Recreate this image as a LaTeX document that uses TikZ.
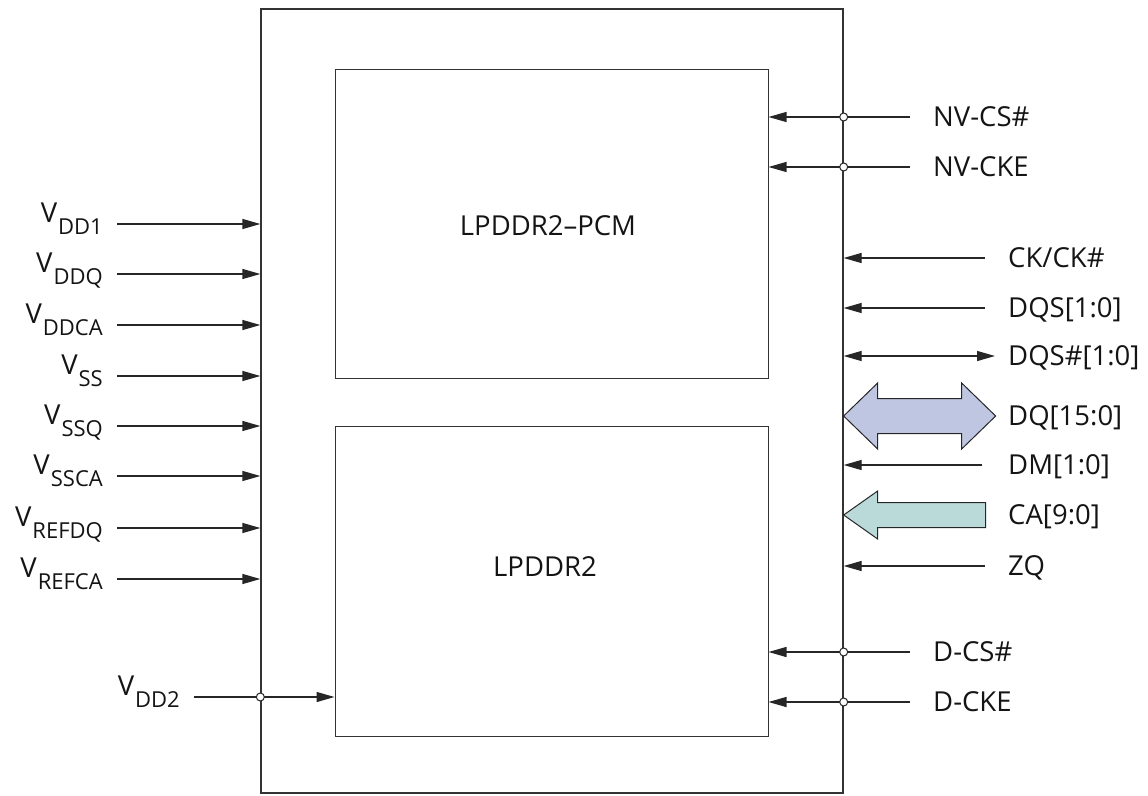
\documentclass[tikz,border=0pt]{standalone}
\usepackage{fontspec}
\setmainfont{Open Sans}
\usetikzlibrary{positioning,arrows.meta,calc}
\definecolor{dqblue}{RGB}{190,198,225}
\definecolor{cateal}{RGB}{186,218,218}
\newcommand{\volt}[1]{V\kern1pt\raisebox{-12pt}{\fontsize{22}{22}\selectfont #1}}
\tikzset{
  box/.style={draw=black!80,line width=1pt,inner sep=0pt},
  sig/.style={draw=black!85,line width=1.3pt,-{Triangle[length=18pt,width=10pt]}},
  sigboth/.style={draw=black!85,line width=1.3pt,{Triangle[length=18pt,width=10pt]}-{Triangle[length=18pt,width=10pt]}},
  vlbl/.style={anchor=east,inner xsep=14pt,inner ysep=0pt,text height=10pt,text depth=14pt},
  rlbl/.style={anchor=west,inner xsep=23pt,inner ysep=0pt,text height=19pt,text depth=0pt},
  tap/.style={draw=black!85,line width=1pt,fill=white},
  bus/.style={draw=black!85,line width=1pt,line join=miter}
}

\begin{document}
\begin{tikzpicture}[x=1pt,y=-1pt,font=\fontsize{27.5}{32}\selectfont,text=black!92]
\useasboundingbox (0,0) rectangle (1148,795);
\node[box,line width=1.3pt,minimum width=582pt,minimum height=784pt] (chip) at (552,401) {};
\node[box,minimum width=433pt,minimum height=309pt] (pcm) at (551.5,223.5) {};
\node[box,minimum width=433pt,minimum height=310pt] (lp) at (551.5,581) {};
\node (pcmname) at (548,226) {LPDDR2–PCM};
\node (lpname) at (545,567) {LPDDR2};

% supplies
\foreach \n/\s/\y in {vdda/DD1/224,vddq/DDQ/274,vddca/DDCA/325,vss/SS/376,
  vssq/SSQ/426,vssca/SSCA/476,vrefdq/REFDQ/528,vrefca/REFCA/579}{
  \node[vlbl] (\n) at (117,\y) {\volt{\s}};
  \draw[sig] (\n) -- (\n -| chip.west);
}
\node[vlbl] (vddb) at (194,697) {\volt{DD2}};
\draw[sig] (vddb) -- (vddb -| lp.west);
\draw[tap] (vddb -| chip.west) circle (4pt);

% control, data
\node[rlbl] (nvcs) at (910,117) {NV-CS\#};
\node[rlbl] (nvcke) at (910,167) {NV-CKE};
\node[rlbl] (ck) at (985,258) {CK/CK\#};
\node[rlbl] (dqs) at (985,308) {DQS[1:0]};
\node[rlbl] (dqsn) at (985,356) {DQS\#[1:0]};
\node[rlbl] (dq) at (985,416) {DQ[15:0]};
\node[rlbl] (dm) at (985,465) {DM[1:0]};
\node[rlbl] (ca) at (985,515) {CA[9:0]};
\node[rlbl] (zq) at (985,566) {ZQ};
\node[rlbl] (dcs) at (910,652) {D-CS\#};
\node[rlbl] (dcke) at (910,702) {D-CKE};

\draw[sig] (nvcs.west) -- (nvcs.west -| pcm.east);
\draw[sig] (nvcke.west) -- (nvcke.west -| pcm.east);
\draw[sig] (dcs.west) -- (dcs.west -| lp.east);
\draw[sig] (dcke.west) -- (dcke.west -| lp.east);
\foreach \n in {nvcs,nvcke,dcs,dcke}
  \draw[tap] (\n.west -| chip.east) circle (4pt);
\foreach \n in {ck,dqs,zq}
  \draw[sig] (\n.west) -- (\n.west -| chip.east);
\draw[sig] ([xshift=-3pt]dm.west) -- (dm.west -| chip.east);
\draw[sigboth] (dqsn.west -| chip.east) -- ([xshift=10pt]dqsn.west);

\draw[bus,fill=dqblue] (dq.west -| chip.east) -- ++(34,-33) -- ++(0,15.5) -- ++(84,0)
  -- ++(0,-15.5) -- ++(34,33) -- ++(-34,33) -- ++(0,-15.5) -- ++(-84,0) -- ++(0,15.5) -- cycle;
\draw[bus,fill=cateal] (ca.west -| chip.east) -- ++(34,-24) -- ++(0,11.5) -- ++(108,0)
  -- ++(0,25) -- ++(-108,0) -- ++(0,11.5) -- cycle;
\end{tikzpicture}
\end{document}
